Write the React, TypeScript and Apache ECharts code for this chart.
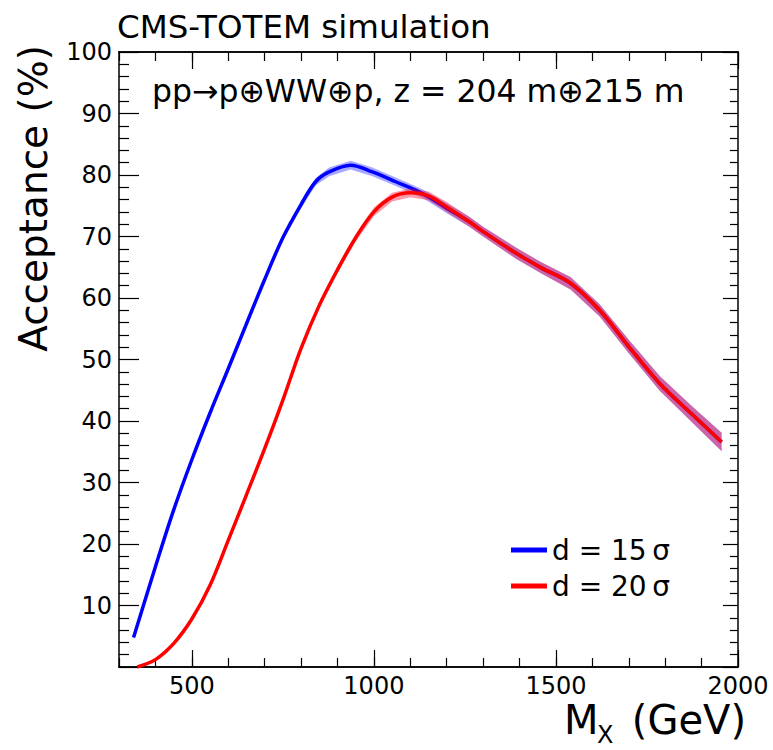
import React, { useEffect, useRef } from "react";
import * as echarts from "echarts";

const blueX = [340, 400, 450, 500, 550, 600, 650, 700, 750, 800, 840, 877, 936, 996, 1060, 1133, 1200, 1262, 1300, 1390, 1460, 1540, 1620, 1700, 1785, 1870, 1955];
const blueY = [4.8, 16.3, 25.5, 33.7, 41.3, 48.5, 55.8, 63.0, 69.8, 75.2, 78.9, 80.5, 81.6, 80.5, 78.9, 77.0, 74.6, 72.4, 70.8, 67.3, 64.9, 62.4, 58.0, 52.1, 46.1, 41.3, 36.6];
const blueErr = [0.3, 0.3, 0.3, 0.4, 0.4, 0.4, 0.4, 0.5, 0.5, 0.6, 0.6, 0.7, 0.7, 0.7, 0.7, 0.7, 0.8, 0.8, 0.8, 0.9, 0.9, 1.0, 1.0, 1.1, 1.2, 1.3, 1.5];

const redX = [350, 400, 450, 500, 550, 600, 650, 700, 750, 800, 850, 900, 950, 1000, 1050, 1100, 1150, 1200, 1262, 1300, 1390, 1460, 1540, 1620, 1700, 1785, 1870, 1955];
const redY = [0.0, 1.2, 3.8, 7.8, 13.3, 20.6, 28.0, 35.5, 43.4, 51.8, 58.8, 64.6, 69.8, 74.0, 76.4, 77.1, 76.6, 74.8, 72.4, 70.8, 67.3, 64.9, 62.4, 58.0, 52.1, 46.1, 41.3, 36.6];
const redErr = [0.2, 0.2, 0.3, 0.3, 0.3, 0.4, 0.4, 0.4, 0.5, 0.5, 0.5, 0.6, 0.6, 0.7, 0.7, 0.7, 0.7, 0.8, 0.8, 0.8, 0.9, 0.9, 1.0, 1.0, 1.1, 1.2, 1.3, 1.5];

const xMajorTicks = [500, 1000, 1500, 2000];
const seriesNames = ["d = 15\u2009σ", "d = 20\u2009σ"];

const FONT = "DejaVu Sans";

function band(xs: number[], ys: number[], es: number[], color: string, z: number) {
  return {
    type: "custom",
    coordinateSystem: "cartesian2d",
    xAxisIndex: 0,
    yAxisIndex: 0,
    silent: true,
    z,
    data: [[xs[0], ys[0]]],
    renderItem: (_p: any, api: any) => {
      const pts: number[][] = [];
      for (let i = 0; i < xs.length; i++) pts.push(api.coord([xs[i], ys[i] + es[i]]));
      for (let i = xs.length - 1; i >= 0; i--) pts.push(api.coord([xs[i], ys[i] - es[i]]));
      return { type: "polygon", shape: { points: pts, smooth: 0 }, style: { fill: color } };
    },
  };
}

export default function App() {
  const ref = useRef<HTMLDivElement>(null);
  useEffect(() => {
    if (!ref.current) return;
    const chart = echarts.init(ref.current, undefined, { renderer: "svg" });
    const axisLine = { show: true, lineStyle: { color: "#000", width: 1.5 } };
    const minorX = {
      type: "value", min: 300, max: 2000, interval: 100,
      axisLine, splitLine: { show: false },
      axisTick: { show: true, inside: true, length: 9, lineStyle: { color: "#000", width: 1.2 } },
    };
    const majorX = {
      type: "value", min: 300, max: 2000,
      axisLine, splitLine: { show: false },
      axisLabel: { show: false },
      axisTick: { show: true, inside: true, length: 17, customValues: xMajorTicks, lineStyle: { color: "#000", width: 1.2 } },
    };
    const yBase = {
      type: "value", min: 0, max: 100, interval: 10,
      axisLine, splitLine: { show: false },
      axisTick: { show: true, inside: true, length: 20, lineStyle: { color: "#000", width: 1.2 } },
      minorTick: { show: true, splitNumber: 5, length: 10, lineStyle: { color: "#000", width: 1.2 } },
      minorSplitLine: { show: false },
    };
    chart.setOption({
      animation: false,
      backgroundColor: "#fff",
      grid: { left: 119, right: 35, top: 52, bottom: 83, containLabel: false },
      xAxis: [
        {
          ...minorX, position: "bottom",
          axisLabel: {
            show: true, color: "#000", fontSize: 24, fontFamily: FONT, margin: 7,
            showMaxLabel: true,
            formatter: (v: number) => (v % 500 === 0 ? String(v) : ""),
          },
        },
        { ...majorX, position: "bottom" },
        { ...minorX, position: "top", axisLabel: { show: false } },
        { ...majorX, position: "top" },
      ],
      yAxis: [
        {
          ...yBase, position: "left",
          axisLabel: {
            show: true, color: "#000", fontSize: 24, fontFamily: FONT, margin: 7,
            formatter: (v: number) => (v === 0 ? "" : String(v)),
          },
        },
        {
          ...yBase, position: "right",
          axisTick: { ...yBase.axisTick, length: 15 },
          minorTick: { ...yBase.minorTick, length: 8 },
          axisLabel: { show: false },
        },
      ],
      legend: {
        data: seriesNames,
        orient: "vertical",
        left: 506,
        top: 531,
        itemWidth: 36,
        itemHeight: 5,
        itemGap: 8,
        icon: "rect",
        textStyle: { fontSize: 28, fontFamily: FONT, color: "#000", padding: [0, 0, 0, 0] },
      },
      series: [
        band(blueX, blueY, blueErr, "rgba(40,40,255,0.40)", 1),
        {
          type: "line", name: seriesNames[0], z: 2,
          data: blueX.map((x, i) => [x, blueY[i]]),
          showSymbol: false, smooth: 0.35,
          lineStyle: { color: "#0000ff", width: 3.5 },
          itemStyle: { color: "#0000ff" },
        },
        band(redX, redY, redErr, "rgba(255,0,40,0.40)", 3),
        {
          type: "line", name: seriesNames[1], z: 4,
          data: redX.map((x, i) => [x, redY[i]]),
          showSymbol: false, smooth: 0.35,
          lineStyle: { color: "#ff0000", width: 3.5 },
          itemStyle: { color: "#ff0000" },
        },
      ],
      graphic: [
        {
          type: "text", x: 117, y: 27, silent: true,
          style: { text: "CMS-TOTEM simulation", fontSize: 32.5, fontFamily: FONT, fill: "#000", align: "left", verticalAlign: "middle" },
        },
        {
          type: "text", x: 152, y: 91, silent: true,
          style: { text: "pp\u2192p\u2295WW\u2295p, z = 204 m\u2295215 m", fontSize: 31.5, fontFamily: FONT, fill: "#000", align: "left", verticalAlign: "middle" },
        },
        {
          type: "text", x: 33, y: 45, rotation: Math.PI / 2, silent: true,
          style: { text: "Acceptance (%)", fontSize: 39, fontFamily: FONT, fill: "#000", align: "right", verticalAlign: "middle" },
        },
        {
          type: "text", x: 564, y: 720, silent: true,
          style: { text: "M", fontSize: 40, fontFamily: FONT, fill: "#000", align: "left", verticalAlign: "middle" },
        },
        {
          type: "text", x: 597, y: 735, silent: true,
          style: { text: "X", fontSize: 24, fontFamily: FONT, fill: "#000", align: "left", verticalAlign: "middle" },
        },
        {
          type: "text", x: 746, y: 720, silent: true,
          style: { text: "(GeV)", fontSize: 40, fontFamily: FONT, fill: "#000", align: "right", verticalAlign: "middle" },
        },
      ],
    });
    return () => chart.dispose();
  }, []);
  return (
    <div
      ref={ref}
      style={{ position: "absolute", left: 0, top: 0, width: 773, height: 750, background: "#fff" }}
    />
  );
}
